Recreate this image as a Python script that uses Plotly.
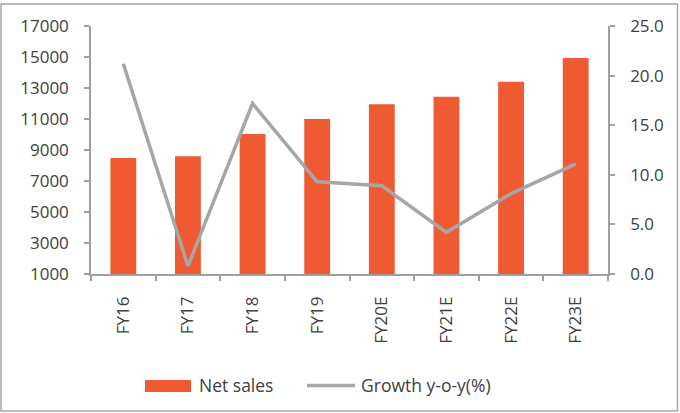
import plotly.graph_objects as go

years = ["FY16", "FY17", "FY18", "FY19", "FY20E", "FY21E", "FY22E", "FY23E"]
net_sales = [8480, 8600, 10030, 11000, 11950, 12430, 13400, 14930]
growth_yoy = [21.2, 0.8, 17.2, 9.3, 8.9, 4.2, 8.1, 11.1]

_TEXT = "#404040"
_AXIS = "#A0A0A0"
_BAR = "#F05A32"
_LINE = "#A6A6A6"
_FONT = "Open Sans"

# plot area in pixels, used to place the frame and legend
_L, _R, _T, _B = 91, 608, 26, 274
_W, _H = _R - _L, _B - _T


def _px(x: float) -> float:
    return (x - _L) / _W


def _py(y: float) -> float:
    return (_B - y) / _H


fig = go.Figure()
fig.add_trace(
    go.Bar(
        x=years,
        y=net_sales,
        name="Net sales",
        marker={"color": _BAR, "line": {"width": 0}},
        width=0.4,
    )
)
fig.add_trace(
    go.Scatter(
        x=years,
        y=growth_yoy,
        name="Growth y-o-y(%)",
        mode="lines",
        line={"color": _LINE, "width": 3.5},
        yaxis="y2",
    )
)

axis_common = {
    "showgrid": False,
    "zeroline": False,
    "showline": True,
    "linecolor": _AXIS,
    "linewidth": 1.5,
    "ticks": "outside",
    "ticklen": 5,
    "tickcolor": _AXIS,
    "tickwidth": 1.5,
    "tickfont": {"size": 17, "color": _TEXT, "family": _FONT},
}

# legend drawn by hand so the bar swatch is a wide block like the original
legend_shapes = [
    {
        "type": "rect",
        "xref": "paper",
        "yref": "paper",
        "x0": _px(145),
        "x1": _px(191),
        "y0": _py(392),
        "y1": _py(380),
        "fillcolor": _BAR,
        "line": {"width": 0},
    },
    {
        "type": "line",
        "xref": "paper",
        "yref": "paper",
        "x0": _px(307),
        "x1": _px(355),
        "y0": _py(385.5),
        "y1": _py(385.5),
        "line": {"color": _LINE, "width": 3.5},
    },
]
legend_font = {"size": 17.5, "color": _TEXT, "family": _FONT}
legend_labels = [
    {
        "text": "Net sales",
        "xref": "paper",
        "yref": "paper",
        "x": _px(197),
        "y": _py(385),
        "xanchor": "left",
        "yanchor": "middle",
        "showarrow": False,
        "font": legend_font,
    },
    {
        "text": "Growth y-o-y(%)",
        "xref": "paper",
        "yref": "paper",
        "x": _px(359),
        "y": _py(385),
        "xanchor": "left",
        "yanchor": "middle",
        "showarrow": False,
        "font": legend_font,
    },
]

fig.update_layout(
    width=680,
    height=413,
    margin={"l": _L, "r": 680 - _R, "t": _T, "b": 413 - _B},
    paper_bgcolor="white",
    plot_bgcolor="white",
    font={"family": _FONT, "color": _TEXT},
    xaxis={
        **axis_common,
        "tickson": "boundaries",
        "tickangle": -90,
        "ticklabelstandoff": 14,
    },
    yaxis={
        **axis_common,
        "range": [1000, 17000],
        "tick0": 1000,
        "dtick": 2000,
        "tickformat": "d",
        "ticklabelstandoff": 12,
    },
    yaxis2={
        **axis_common,
        "overlaying": "y",
        "side": "right",
        "range": [0, 25],
        "dtick": 5,
        "tickformat": ".1f",
        "ticklabelstandoff": 12,
    },
    bargap=0.6,
    showlegend=False,
    annotations=legend_labels,
    shapes=[
        {
            "type": "rect",
            "xref": "paper",
            "yref": "paper",
            "x0": _px(1),
            "x1": _px(677.5),
            "y0": _py(411),
            "y1": _py(4),
            "line": {"color": "#A6A6A6", "width": 1.5},
            "layer": "below",
        },
        *legend_shapes,
    ],
)

fig.write_html(
    "out.html",
    config={"displayModeBar": False},
    post_script="document.body.style.margin = '0';",
)
